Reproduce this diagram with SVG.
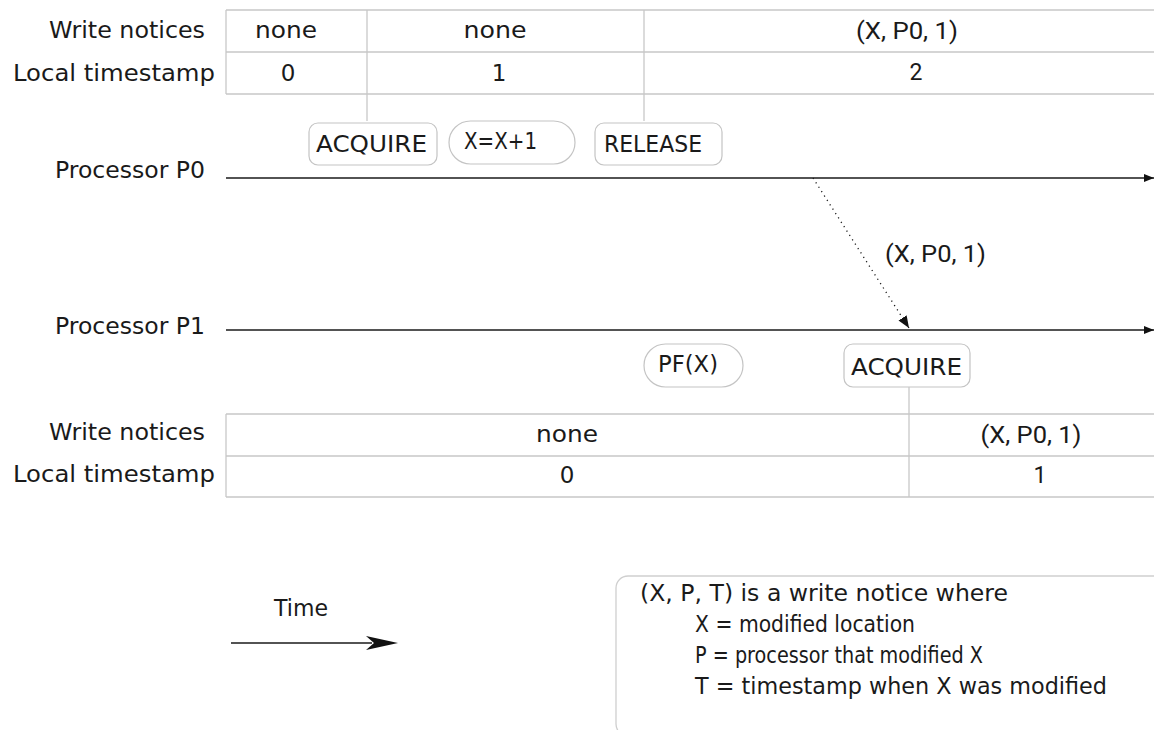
<svg xmlns="http://www.w3.org/2000/svg" width="1154" height="730" viewBox="0 0 1154 730">
  <style>
    .lbl { font-family: "DejaVu Sans", "Liberation Sans", sans-serif; font-size: 23px; fill: #1a1a1a; }
    .rob { font-family: Roboto, "Liberation Sans", sans-serif; font-size: 23px; fill: #1a1a1a; }
    .grid { stroke: #c8c8c8; stroke-width: 1.3; fill: none; }
    .box { stroke: #c4c4c4; stroke-width: 1.2; fill: #ffffff; }
    .timeline { stroke: #1a1a1a; stroke-width: 1.6; fill: none; }
    .msg { stroke: #1a1a1a; stroke-width: 1.3; stroke-dasharray: 1.2 4; fill: none; }
  </style>
  <defs>
    <marker id="headSmall" viewBox="0 0 10 8" refX="10" refY="4" markerWidth="10" markerHeight="8" markerUnits="userSpaceOnUse" orient="auto">
      <path d="M0,0 L10,4 L0,8 Z" fill="#111"/>
    </marker>
    <marker id="headMsg" viewBox="0 0 10 10" refX="10" refY="5" markerWidth="12" markerHeight="12" markerUnits="userSpaceOnUse" orient="auto">
      <path d="M0,1 L10,5 L0,9 Z" fill="#111"/>
    </marker>
  </defs>

  <rect width="1154" height="730" fill="#ffffff"/>

  <!-- P0 state table -->
  <g id="p0-table">
    <path class="grid" d="M226,10 H1154 M226,52 H1154 M226,94 H1154 M226,10 V94 M367,10 V121 M644,10 V121"/>
    <text class="lbl" x="205" y="38" text-anchor="end" textLength="156" lengthAdjust="spacingAndGlyphs">Write notices</text>
    <text class="lbl" x="215" y="81" text-anchor="end" textLength="202" lengthAdjust="spacingAndGlyphs">Local timestamp</text>
    <text class="lbl" x="286" y="38" text-anchor="middle" textLength="62" lengthAdjust="spacingAndGlyphs">none</text>
    <text class="lbl" x="288" y="81" text-anchor="middle">0</text>
    <text class="lbl" x="495" y="38" text-anchor="middle" textLength="63" lengthAdjust="spacingAndGlyphs">none</text>
    <text class="lbl" x="499" y="81" text-anchor="middle">1</text>
    <text class="rob" x="907" y="39" text-anchor="middle" textLength="102" lengthAdjust="spacingAndGlyphs">(X, P0, 1)</text>
    <text class="rob" x="916" y="80" text-anchor="middle">2</text>
  </g>

  <!-- P0 events -->
  <g id="p0-acquire">
    <rect class="box" x="309" y="123" width="128" height="42" rx="9"/>
    <text class="lbl" x="316" y="152" textLength="111" lengthAdjust="spacingAndGlyphs">ACQUIRE</text>
  </g>
  <g id="p0-increment">
    <rect class="box" x="449" y="121" width="126" height="43" rx="21.5"/>
    <text class="lbl" x="464" y="149" textLength="73" lengthAdjust="spacingAndGlyphs">X=X+1</text>
  </g>
  <g id="p0-release">
    <rect class="box" x="595" y="123" width="127" height="42" rx="9"/>
    <text class="lbl" x="604" y="152" textLength="98" lengthAdjust="spacingAndGlyphs">RELEASE</text>
  </g>

  <!-- Processor labels -->
  <g id="p0-label">
    <text class="lbl" x="205" y="178" text-anchor="end" textLength="150" lengthAdjust="spacingAndGlyphs">Processor P0</text>
  </g>
  <g id="p1-label">
    <text class="lbl" x="205" y="334" text-anchor="end" textLength="150" lengthAdjust="spacingAndGlyphs">Processor P1</text>
  </g>

  <!-- P1 events -->
  <g id="p1-prefetch">
    <rect class="box" x="644" y="344" width="99" height="43" rx="21.5"/>
    <text class="lbl" x="658" y="372" textLength="60" lengthAdjust="spacingAndGlyphs">PF(X)</text>
  </g>
  <g id="p1-acquire">
    <rect class="box" x="844" y="344" width="126" height="43" rx="9"/>
    <text class="lbl" x="851" y="375" textLength="111" lengthAdjust="spacingAndGlyphs">ACQUIRE</text>
  </g>

  <!-- P1 state table -->
  <g id="p1-table">
    <path class="grid" d="M226,414 H1154 M226,456 H1154 M226,497 H1154 M226,414 V497 M909,387 V497"/>
    <text class="lbl" x="205" y="440" text-anchor="end" textLength="156" lengthAdjust="spacingAndGlyphs">Write notices</text>
    <text class="lbl" x="215" y="482" text-anchor="end" textLength="202" lengthAdjust="spacingAndGlyphs">Local timestamp</text>
    <text class="lbl" x="567" y="442" text-anchor="middle" textLength="62" lengthAdjust="spacingAndGlyphs">none</text>
    <text class="lbl" x="567" y="483" text-anchor="middle">0</text>
    <text class="rob" x="1031" y="443" text-anchor="middle" textLength="101" lengthAdjust="spacingAndGlyphs">(X, P0, 1)</text>
    <text class="rob" x="1040" y="483" text-anchor="middle">1</text>
  </g>

  <!-- Timelines and the write-notice message -->
  <g id="connectors">
    <line class="timeline" x1="226" y1="178" x2="1154" y2="178" marker-end="url(#headSmall)"/>
    <line class="timeline" x1="226" y1="330" x2="1154" y2="330" marker-end="url(#headSmall)"/>
    <line class="msg" x1="813" y1="178" x2="909" y2="328" marker-end="url(#headMsg)"/>
    <text class="rob" x="885" y="262" textLength="101" lengthAdjust="spacingAndGlyphs">(X, P0, 1)</text>
  </g>

  <!-- Time direction -->
  <g id="time-legend">
    <text class="lbl" x="274" y="616" textLength="54" lengthAdjust="spacingAndGlyphs">Time</text>
    <line x1="231" y1="643" x2="372" y2="643" stroke="#1a1a1a" stroke-width="1.6"/>
    <path d="M398,643 L366,636 L374,643 L366,650 Z" fill="#111"/>
  </g>

  <!-- Write notice key -->
  <g id="notice-key">
    <rect x="616" y="576" width="620" height="160" rx="12" fill="none" stroke="#cfcfcf" stroke-width="1.3"/>
    <text class="lbl" x="640" y="601" textLength="368" lengthAdjust="spacingAndGlyphs">(X, P, T) is a write notice where</text>
    <text class="lbl" x="695" y="632" textLength="220" lengthAdjust="spacingAndGlyphs">X = modified location</text>
    <text class="lbl" x="695" y="663" textLength="288" lengthAdjust="spacingAndGlyphs">P = processor that modified X</text>
    <text class="lbl" x="695" y="694" textLength="412" lengthAdjust="spacingAndGlyphs">T = timestamp when X was modified</text>
  </g>
</svg>
